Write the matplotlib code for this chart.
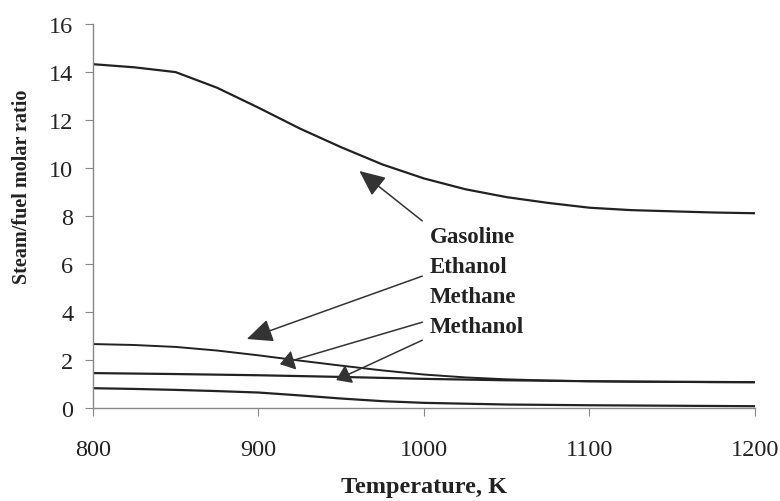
import matplotlib.pyplot as plt

plt.rcParams['font.family'] = ['Liberation Serif', 'DejaVu Serif']

# values (K, steam/fuel molar ratio)
temp_g = [800, 825, 850, 875, 900, 925, 950, 975, 1000, 1025, 1050, 1075, 1100, 1125, 1150, 1175, 1200]
gasoline = [14.33, 14.2, 14.0, 13.35, 12.52, 11.65, 10.87, 10.15, 9.57, 9.12, 8.79, 8.55, 8.35, 8.25, 8.2, 8.15, 8.12]
ethanol = [2.67, 2.63, 2.55, 2.4, 2.2, 1.98, 1.77, 1.57, 1.4, 1.28, 1.2, 1.15, 1.12, 1.1, 1.09, 1.08, 1.08]

temp_m = [800, 850, 900, 950, 1000, 1050, 1100, 1150, 1200]
methane = [1.46, 1.42, 1.37, 1.3, 1.22, 1.16, 1.12, 1.1, 1.08]

temp_mo = [800, 825, 850, 875, 900, 925, 950, 975, 1000, 1050, 1100, 1150, 1200]
methanol = [0.83, 0.8, 0.76, 0.71, 0.65, 0.53, 0.4, 0.29, 0.22, 0.15, 0.12, 0.1, 0.08]

labels = ['Gasoline', 'Ethanol', 'Methane', 'Methanol']
label_y = [7.17, 5.92, 4.67, 3.42]
# arrow tails and tips
arrow_tail = [(999, 7.8), (999, 5.5), (999, 3.58), (999, 2.83)]
arrow_tip = [(961, 9.88), (893, 2.88), (913, 1.83), (947, 1.17)]
arrow_head = ['-|>,head_length=1.0,head_width=0.45', '-|>,head_length=1.0,head_width=0.45',
              '-|>,head_length=0.55,head_width=0.38', '-|>,head_length=0.55,head_width=0.38']

fig = plt.figure(figsize=(7.8, 5.02), dpi=100)
ax = fig.add_axes([0.119, 0.185, 0.849, 0.765])

lc = '#222222'
ax.plot(temp_g, gasoline, color=lc, lw=1.6)
ax.plot(temp_g, ethanol, color=lc, lw=1.4)
ax.plot(temp_m, methane, color=lc, lw=1.6)
ax.plot(temp_mo, methanol, color=lc, lw=1.6)

for tail, tip, hs in zip(arrow_tail, arrow_tip, arrow_head):
    ax.annotate('', xy=tip, xytext=tail,
                arrowprops=dict(arrowstyle=hs, mutation_scale=16, lw=1.1,
                                color='#333333', shrinkA=0, shrinkB=0))

for name, y in zip(labels, label_y):
    ax.text(1003.5, y, name, ha='left', va='center', fontsize=16.5,
            fontweight='bold', color='#222222')

ax.set_xlim(800, 1200)
ax.set_ylim(0, 16)
ax.set_xticks([800, 900, 1000, 1100, 1200])
ax.set_yticks(range(0, 17, 2))

for s in ['top', 'right']:
    ax.spines[s].set_visible(False)
for s in ['left', 'bottom']:
    ax.spines[s].set_color('#888888')
    ax.spines[s].set_linewidth(1)

ax.tick_params(axis='both', colors='#888888', labelcolor='#222222', labelsize=17.5, length=6)
ax.tick_params(axis='x', pad=16)
ax.tick_params(axis='y', pad=8)

ax.set_xlabel('Temperature, K', fontsize=17.5, fontweight='bold', color='#222222')
ax.xaxis.set_label_coords(0.5, -0.178)
ax.set_ylabel('Steam/fuel molar ratio', fontsize=14.5, fontweight='bold', color='#222222')
ax.yaxis.set_label_coords(-0.092, 0.58)

fig.savefig('out.png', dpi=100)
